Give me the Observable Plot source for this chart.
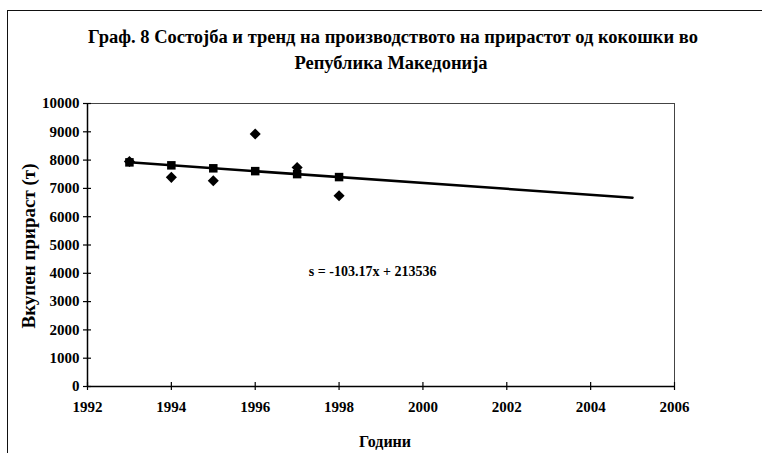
<!DOCTYPE html>
<html><head><meta charset="utf-8">
<script src="https://cdn.jsdelivr.net/npm/d3@7"></script>
<script src="https://cdn.jsdelivr.net/npm/@observablehq/plot@0.6"></script>
<style>
body{margin:0;background:#fff;}
#wrap{position:relative;width:762px;height:457px;overflow:hidden;}
#border{position:absolute;left:7px;top:10px;width:800px;height:442px;border-left:1.5px solid #111;border-top:1.5px solid #111;}
#wrap svg{position:absolute;left:0;top:0;background:transparent;}
#wrap svg, #wrap svg text, #wrap svg g{font-family:'Liberation Serif','DejaVu Serif',serif !important;}
</style></head><body><div id="wrap"><div id="border"></div></div>
<script>
const years = [1993, 1994, 1995, 1996, 1997, 1998];
const actual = [7950, 7390, 7270, 8920, 7740, 6740];
const trend = [7920, 7815, 7710, 7610, 7505, 7400];
const trendLineYears = [1993, 2005];
const trendLineValues = [7920, 6670];
const xTicks = [1992, 1994, 1996, 1998, 2000, 2002, 2004, 2006];
const yTicks = [0, 1000, 2000, 3000, 4000, 5000, 6000, 7000, 8000, 9000, 10000];
const titleLines = ["Граф. 8 Состојба и тренд на производството на прирастот од кокошки во", "Република Македонија"];
const yLabel = "Вкупен прираст (т)";
const xLabel = "Години";
const equation = "s = -103.17x + 213536";

const actualData = years.map((y, i) => ({year: y, value: actual[i]}));
const trendData = years.map((y, i) => ({year: y, value: trend[i]}));
const lineData = trendLineYears.map((y, i) => ({year: y, value: trendLineValues[i]}));

const font = "'Liberation Serif', 'DejaVu Serif', serif";

const chart = Plot.plot({
  width: 762,
  height: 457,
  marginLeft: 87,
  marginRight: 88,
  marginTop: 103,
  marginBottom: 71,
  style: {fontFamily: font, background: "transparent", color: "#000"},
  x: {domain: [1992, 2006], ticks: xTicks, tickFormat: d => String(d)},
  y: {domain: [0, 10000], ticks: yTicks, tickFormat: d => String(d)},
  marks: [
    Plot.frame({stroke: "#444", strokeWidth: 1}),
    Plot.ruleY([0], {stroke: "#000", strokeWidth: 1.5}),
    Plot.ruleX([1992], {stroke: "#000", strokeWidth: 1.5}),
    Plot.ruleY(yTicks, {y: d => d, x1: 1992, x2: 1992, insetLeft: -4, insetRight: -4, stroke: "#000", strokeWidth: 1.2}),
    Plot.ruleX(xTicks, {x: d => d, y1: 0, y2: 0, insetTop: -4, insetBottom: -4, stroke: "#000", strokeWidth: 1.2}),
    Plot.axisY({ticks: yTicks, tickSize: 0, tickPadding: 8, fontSize: 15, fontWeight: "bold", fontFamily: font, tickFormat: d => String(d), label: null}),
    Plot.axisX({ticks: xTicks, tickSize: 0, tickPadding: 15, fontSize: 15, fontWeight: "bold", fontFamily: font, tickFormat: d => String(d), label: null}),
    Plot.line(lineData, {x: "year", y: "value", stroke: "#000", strokeWidth: 2.5}),
    Plot.dot(trendData, {x: "year", y: "value", symbol: "square", r: 4.8, fill: "#000", stroke: "none"}),
    Plot.dot(actualData, {x: "year", y: "value", symbol: "diamond2", r: 5, fill: "#000", stroke: "none"}),
    Plot.text([equation], {x: 1998.8, y: 4080, text: d => d, fontSize: 14, fontWeight: "bold", fontFamily: font, fill: "#000"}),
    Plot.text([titleLines[0]], {frameAnchor: "top", text: d => d, dx: 12, dy: -74, fontSize: 18.5, fontWeight: "bold", fontFamily: font, fill: "#000"}),
    Plot.text([titleLines[1]], {frameAnchor: "top", text: d => d, dx: 10, dy: -48, fontSize: 18.5, fontWeight: "bold", fontFamily: font, fill: "#000"}),
    Plot.text([yLabel], {frameAnchor: "left", textAnchor: "middle", text: d => d, dx: -59, dy: 1, rotate: -90, fontSize: 19, fontWeight: "bold", fontFamily: font, fill: "#000"}),
    Plot.text([xLabel], {frameAnchor: "bottom", text: d => d, dx: 4, dy: 60, fontSize: 16, fontWeight: "bold", fontFamily: font, fill: "#000"})
  ]
});
document.getElementById("wrap").appendChild(chart);
</script>
</body></html>
